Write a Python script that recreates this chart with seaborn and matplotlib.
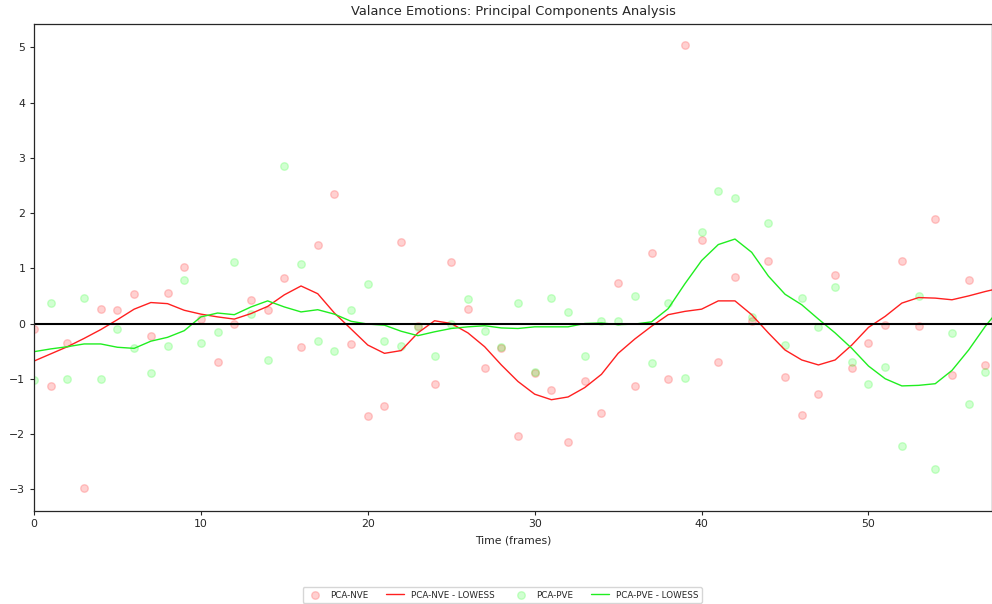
import numpy as np
import pandas as pd
import matplotlib
matplotlib.use("Agg")
import matplotlib.pyplot as plt
import seaborn as sns

frames = list(range(58))
pca_nve = [-0.10, -1.14, -0.35, -2.98, 0.26, 0.24, 0.54, -0.22, 0.56, 1.02,
           0.08, -0.70, 0.00, 0.42, 0.25, 0.83, -0.42, 1.43, 2.34, -0.37,
           -1.67, -1.49, 1.47, -0.04, -1.09, 1.11, 0.27, -0.80, -0.44, -2.03,
           -0.90, -1.20, -2.14, -1.04, -1.62, 0.74, -1.14, 1.28, -1.01, 5.04,
           1.52, -0.70, 0.85, 0.04, 1.14, -0.97, -1.65, -1.28, 0.87, -0.81,
           -0.36, -0.03, 1.14, -0.04, 1.90, -0.93, 0.79, -0.76]
pca_pve = [-1.02, 0.37, -1.00, 0.46, -1.00, -0.10, -0.44, -0.90, -0.41, 0.78,
           -0.35, -0.16, 1.11, 0.17, -0.66, 2.85, 1.07, -0.32, -0.50, 0.25,
           0.71, -0.32, -0.40, -0.06, -0.59, 0.00, 0.45, -0.13, -0.42, 0.37,
           -0.88, 0.47, 0.21, -0.58, 0.05, 0.04, 0.49, -0.71, 0.37, -0.98,
           1.65, 2.40, 2.28, 0.12, 1.82, -0.39, 0.47, -0.07, 0.67, -0.70,
           -1.09, -0.78, -2.22, 0.49, -2.64, -0.18, -1.45, -0.87]

lowess_frames = list(range(59))
nve_lowess = [-0.68, -0.55, -0.42, -0.27, -0.11, 0.07, 0.26, 0.38, 0.36, 0.24,
              0.17, 0.12, 0.08, 0.18, 0.31, 0.52, 0.68, 0.54, 0.19, -0.10,
              -0.39, -0.54, -0.49, -0.17, 0.05, 0.00, -0.17, -0.42, -0.75, -1.05,
              -1.28, -1.38, -1.33, -1.16, -0.92, -0.54, -0.28, -0.05, 0.16, 0.22,
              0.26, 0.41, 0.41, 0.16, -0.17, -0.48, -0.66, -0.75, -0.66, -0.39,
              -0.07, 0.13, 0.37, 0.47, 0.46, 0.43, 0.50, 0.58, 0.65]
pve_lowess = [-0.51, -0.46, -0.42, -0.37, -0.37, -0.43, -0.45, -0.32, -0.25, -0.13,
              0.12, 0.19, 0.16, 0.30, 0.41, 0.30, 0.21, 0.25, 0.17, 0.04,
              -0.01, -0.03, -0.14, -0.22, -0.15, -0.09, -0.06, -0.04, -0.08, -0.09,
              -0.06, -0.06, -0.06, 0.00, 0.01, -0.02, -0.01, 0.03, 0.27, 0.72,
              1.14, 1.43, 1.53, 1.29, 0.86, 0.53, 0.34, 0.08, -0.17, -0.45,
              -0.77, -1.00, -1.13, -1.12, -1.09, -0.85, -0.48, -0.05, 0.32]

pts = pd.DataFrame({"frame": frames, "nve": pca_nve, "pve": pca_pve})
lw = pd.DataFrame({"frame": lowess_frames, "nve": nve_lowess, "pve": pve_lowess})

sns.set_style("ticks")
plt.rcParams.update({"xtick.major.size": 2.8, "ytick.major.size": 2.8,
                     "axes.linewidth": 0.9})
fig = plt.figure(figsize=(9.92, 6.04), dpi=100)
ax = fig.add_axes([34/992, 1 - 510.7/604, 1.0 - 34/992 + 0.0005, (510.7 - 23.7)/604])

sns.scatterplot(data=pts, x="frame", y="nve", ax=ax, color="red", alpha=0.18,
                s=30, edgecolor="red", linewidth=1.0, label="PCA-NVE")
sns.lineplot(data=lw, x="frame", y="nve", ax=ax, color="#ff2020", linewidth=1.0,
             label="PCA-NVE - LOWESS")
sns.scatterplot(data=pts, x="frame", y="pve", ax=ax, color="lime", alpha=0.18,
                s=30, edgecolor="lime", linewidth=1.0, label="PCA-PVE")
sns.lineplot(data=lw, x="frame", y="pve", ax=ax, color="#20ee20", linewidth=1.0,
             label="PCA-PVE - LOWESS")
ax.axhline(0, color="black", linewidth=1.5)

ax.set_xlim(0, 57.43)
ax.set_ylim(-3.39, 5.43)
ax.set_xticks([0, 10, 20, 30, 40, 50])
ax.set_yticks([-3, -2, -1, 0, 1, 2, 3, 4, 5])
ax.tick_params(labelsize=7.8)
ax.set_xlabel("Time (frames)", fontsize=7.8)
ax.set_ylabel("")
ax.set_title("Valance Emotions: Principal Components Analysis", fontsize=9.4)

handles, labels = ax.get_legend_handles_labels()
ax.get_legend().remove()
fig.legend(handles, labels, loc="center", bbox_to_anchor=(502/992, 1 - 595/604),
           ncol=4, fontsize=6.3, frameon=True)

fig.savefig("out.png", dpi=100)
